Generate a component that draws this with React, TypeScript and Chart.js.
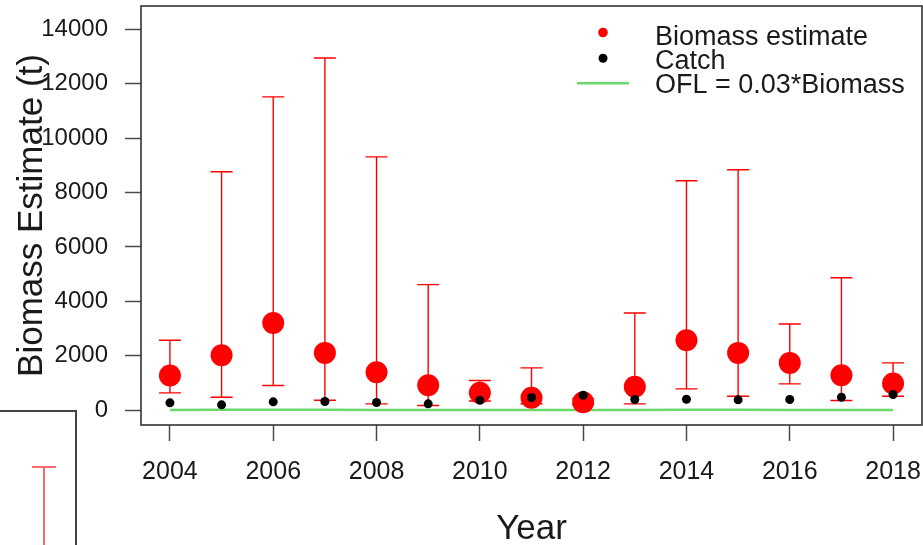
import React, { useEffect, useRef } from "react";
import { Chart, registerables } from "chart.js";

Chart.register(...registerables);

const years = [2004, 2005, 2006, 2007, 2008, 2009, 2010, 2011, 2012, 2013, 2014, 2015, 2016, 2017, 2018];
const biomass = [1268, 2014, 3204, 2102, 1389, 911, 632, 448, 287, 853, 2565, 2102, 1734, 1279, 974];
const upperCI = [2565, 8764, 11520, 12953, 9315, 4612, 1084, 1551, 420, 3572, 8433, 8837, 3167, 4869, 1734];
const lowerCI = [632, 470, 900, 360, 228, 165, 330, 230, 200, 228, 779, 507, 963, 349, 507];
const catchT = [265, 191, 301, 312, 276, 228, 360, 459, 544, 386, 397, 375, 386, 470, 570];
const ofl = [4, 6, 10, 6, 4, 3, 2, 1, 1, 3, 8, 6, 5, 4, 3];

const xTickValues = [2004, 2006, 2008, 2010, 2012, 2014, 2016, 2018];
const yTickValues = [0, 2000, 4000, 6000, 8000, 10000, 12000, 14000];
const legendLabels = ["Biomass estimate", "Catch", "OFL = 0.03*Biomass"];

const FONT = '"Liberation Sans", Arial, Helvetica, sans-serif';
const RED = "#ff0000";
const GREEN = "#6ad86a";

const errorBarPlugin = {
  id: "errorBars",
  beforeDatasetsDraw(chart: any) {
    const { ctx, scales } = chart;
    const x = scales.x;
    const y = scales.y;
    ctx.save();
    ctx.strokeStyle = RED;
    ctx.lineWidth = 1.4;
    years.forEach((yr, i) => {
      const px = x.getPixelForValue(yr);
      const top = y.getPixelForValue(upperCI[i]);
      const bot = y.getPixelForValue(lowerCI[i]);
      ctx.beginPath();
      ctx.moveTo(px, top);
      ctx.lineTo(px, bot);
      ctx.moveTo(px - 11, top);
      ctx.lineTo(px + 11, top);
      ctx.moveTo(px - 11, bot);
      ctx.lineTo(px + 11, bot);
      ctx.stroke();
    });
    ctx.restore();
  },
};

const boxLegendPlugin = {
  id: "boxLegend",
  afterDraw(chart: any) {
    const { ctx, chartArea } = chart;
    ctx.save();
    ctx.strokeStyle = "#333";
    ctx.lineWidth = 1.6;
    ctx.strokeRect(chartArea.left, chartArea.top, chartArea.right - chartArea.left, chartArea.bottom - chartArea.top);

    // legend
    const sx = 603;
    ctx.fillStyle = RED;
    ctx.beginPath();
    ctx.arc(sx, 32.5, 4.8, 0, Math.PI * 2);
    ctx.fill();
    ctx.fillStyle = "#000";
    ctx.beginPath();
    ctx.arc(sx, 58.3, 4.5, 0, Math.PI * 2);
    ctx.fill();
    ctx.strokeStyle = GREEN;
    ctx.lineWidth = 2.5;
    ctx.beginPath();
    ctx.moveTo(577, 83.3);
    ctx.lineTo(629, 83.3);
    ctx.stroke();

    ctx.fillStyle = "#1a1a1a";
    ctx.font = `27px ${FONT}`;
    ctx.textAlign = "left";
    ctx.textBaseline = "alphabetic";
    const baselines = [45, 69, 93];
    legendLabels.forEach((t, i) => ctx.fillText(t, 655, baselines[i]));
    ctx.restore();
  },
};

export default function App() {
  const ref = useRef<HTMLCanvasElement | null>(null);

  useEffect(() => {
    if (!ref.current) return;
    const tickColor = "#4a4a4a";
    const chart = new Chart(ref.current, {
      type: "scatter",
      data: {
        datasets: [
          {
            label: legendLabels[2],
            type: "line",
            data: years.map((yr, i) => ({ x: yr, y: ofl[i] })),
            borderColor: GREEN,
            borderWidth: 2.5,
            pointRadius: 0,
            fill: false,
            order: 3,
          } as any,
          {
            label: legendLabels[0],
            data: years.map((yr, i) => ({ x: yr, y: biomass[i] })),
            backgroundColor: RED,
            borderWidth: 0,
            pointRadius: 11,
            order: 2,
          },
          {
            label: legendLabels[1],
            data: years.map((yr, i) => ({ x: yr, y: catchT[i] })),
            backgroundColor: "#000",
            borderWidth: 0,
            pointRadius: 4.5,
            order: 0,
          },
        ],
      },
      options: {
        responsive: false,
        animation: false,
        events: [],
        devicePixelRatio: 1,
        layout: { autoPadding: false, padding: { top: 6, right: 1, left: 0, bottom: 0 } },
        plugins: {
          legend: { display: false },
          tooltip: { enabled: false },
        },
        scales: {
          x: {
            type: "linear",
            min: 2003.44,
            max: 2018.56,
            afterBuildTicks: (s: any) => {
              s.ticks = xTickValues.map((v) => ({ value: v }));
            },
            afterFit: (s: any) => {
              s.height = 120;
              s.paddingLeft = 0;
              s.paddingRight = 0;
            },
            border: { display: false },
            grid: {
              drawOnChartArea: false,
              drawTicks: true,
              tickLength: 16,
              tickColor,
              tickWidth: 1.5,
            },
            ticks: {
              font: { family: FONT, size: 25, lineHeight: 1.2 },
              color: "#1a1a1a",
              padding: 16,
              maxRotation: 0,
              autoSkip: false,
              callback: (v: any) => String(v),
            },
            title: {
              display: true,
              text: "Year",
              font: { family: FONT, size: 35, lineHeight: 0.9 },
              color: "#1a1a1a",
              padding: { top: 0, bottom: 0 },
            },
          },
          y: {
            type: "linear",
            min: -551,
            max: 14864,
            afterBuildTicks: (s: any) => {
              s.ticks = yTickValues.map((v) => ({ value: v }));
            },
            afterFit: (s: any) => {
              s.width = 141;
              s.paddingTop = 0;
              s.paddingBottom = 0;
            },
            border: { display: false },
            grid: {
              drawOnChartArea: false,
              drawTicks: true,
              tickLength: 16,
              tickColor,
              tickWidth: 1.5,
            },
            ticks: {
              font: { family: FONT, size: 24, lineHeight: 1.2 },
              color: "#1a1a1a",
              padding: 17,
              autoSkip: false,
              callback: (v: any) => String(v),
            },
            title: {
              display: true,
              text: "Biomass Estimate (t)",
              font: { family: FONT, size: 35, lineHeight: 1 },
              color: "#1a1a1a",
              padding: { top: 15, bottom: 0 },
            },
          },
        },
      },
      plugins: [errorBarPlugin, boxLegendPlugin],
    } as any);
    return () => chart.destroy();
  }, []);

  return (
    <div style={{ position: "absolute", left: 0, top: 0, width: 923, height: 545, background: "#fff", overflow: "hidden" }}>
      <canvas ref={ref} width={923} height={545} style={{ display: "block", width: 923, height: 545 }} />
      <div
        style={{
          position: "absolute",
          left: -2,
          top: 410,
          width: 79,
          height: 140,
          borderTop: "2px solid #444",
          borderRight: "2px solid #444",
          boxSizing: "border-box",
        }}
      />
      <div style={{ position: "absolute", left: 32, top: 466, width: 24, height: 2, background: "#ff6a6a" }} />
      <div style={{ position: "absolute", left: 43, top: 466, width: 2, height: 80, background: "#ff6a6a" }} />
    </div>
  );
}
